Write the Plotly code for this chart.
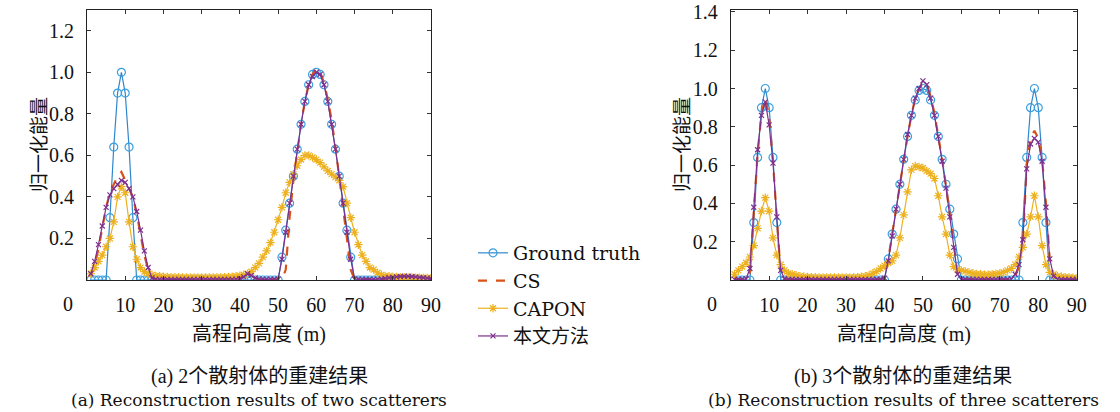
import plotly.graph_objects as go

# ---------------- data ----------------
x_m = list(range(1, 91))

# (a) two scatterers
a_gt = [0, 0, 0, 0, 0, 0.30, 0.64, 0.90, 1.00, 0.90,
        0.64, 0.30, 0, 0, 0, 0, 0, 0, 0, 0,
        0, 0, 0, 0, 0, 0, 0, 0, 0, 0,
        0, 0, 0, 0, 0, 0, 0, 0, 0, 0,
        0, 0, 0, 0, 0, 0, 0, 0, 0, 0,
        0.11, 0.24, 0.37, 0.50, 0.63, 0.75, 0.86, 0.94, 0.99, 1.00,
        0.99, 0.94, 0.86, 0.75, 0.63, 0.50, 0.37, 0.24, 0.11, 0,
        0, 0, 0, 0, 0, 0, 0, 0, 0, 0,
        0, 0, 0, 0, 0, 0, 0, 0, 0, 0]
a_cs = [0.02, 0.07, 0.15, 0.25, 0.35, 0.42, 0.46, 0.50, 0.52, 0.48,
        0.44, 0.40, 0.32, 0.22, 0.12, 0.05, 0.01, 0.004, 0.003, 0.003,
        0.003, 0.003, 0.003, 0.003, 0.003, 0.003, 0.003, 0.003, 0.003, 0.003,
        0.003, 0.003, 0.003, 0.003, 0.003, 0.003, 0.003, 0.003, 0.004, 0.006,
        0.012, 0.030, 0.020, 0.008, 0.003, 0.003, 0.003, 0.003, 0.003, 0.003,
        0.003, 0.05, 0.30, 0.48, 0.62, 0.75, 0.86, 0.94, 0.99, 1.02,
        1.00, 0.95, 0.87, 0.77, 0.64, 0.50, 0.36, 0.20, 0.05, 0.003,
        0.003, 0.003, 0.003, 0.003, 0.003, 0.003, 0.003, 0.005, 0.008, 0.010,
        0.012, 0.014, 0.015, 0.015, 0.014, 0.013, 0.012, 0.010, 0.008, 0.006]
a_capon = [0.03, 0.06, 0.09, 0.12, 0.16, 0.20, 0.28, 0.40, 0.45, 0.42,
           0.28, 0.16, 0.10, 0.06, 0.04, 0.03, 0.025, 0.02, 0.018, 0.016,
           0.015, 0.014, 0.013, 0.013, 0.012, 0.012, 0.012, 0.012, 0.012, 0.012,
           0.012, 0.012, 0.012, 0.013, 0.013, 0.014, 0.015, 0.016, 0.018, 0.021,
           0.025, 0.03, 0.04, 0.06, 0.08, 0.11, 0.14, 0.18, 0.23, 0.29,
           0.35, 0.42, 0.47, 0.51, 0.55, 0.58, 0.60, 0.60, 0.59, 0.58,
           0.565, 0.545, 0.525, 0.51, 0.495, 0.48, 0.45, 0.37, 0.30, 0.23,
           0.17, 0.12, 0.09, 0.06, 0.05, 0.035, 0.025, 0.02, 0.018, 0.016,
           0.015, 0.014, 0.013, 0.012, 0.012, 0.011, 0.011, 0.010, 0.010, 0.010]
a_prop = [0.03, 0.09, 0.17, 0.26, 0.35, 0.41, 0.44, 0.46, 0.48, 0.47,
          0.44, 0.40, 0.33, 0.24, 0.14, 0.06, 0.01, 0.004, 0.003, 0.003,
          0.003, 0.003, 0.003, 0.003, 0.003, 0.003, 0.003, 0.003, 0.003, 0.003,
          0.003, 0.003, 0.003, 0.003, 0.003, 0.003, 0.003, 0.003, 0.004, 0.007,
          0.015, 0.030, 0.022, 0.010, 0.004, 0.003, 0.003, 0.003, 0.003, 0.004,
          0.10, 0.23, 0.37, 0.50, 0.63, 0.75, 0.86, 0.94, 0.98, 1.00,
          0.99, 0.94, 0.86, 0.75, 0.63, 0.50, 0.37, 0.23, 0.10, 0.004,
          0.003, 0.003, 0.003, 0.003, 0.003, 0.003, 0.005, 0.008, 0.011, 0.013,
          0.015, 0.017, 0.018, 0.018, 0.017, 0.015, 0.013, 0.011, 0.009, 0.007]

# (b) three scatterers
b_gt = [0, 0, 0, 0, 0, 0.30, 0.64, 0.90, 1.00, 0.90,
        0.64, 0.30, 0, 0, 0, 0, 0, 0, 0, 0,
        0, 0, 0, 0, 0, 0, 0, 0, 0, 0,
        0, 0, 0, 0, 0, 0, 0, 0, 0, 0,
        0.11, 0.24, 0.37, 0.50, 0.63, 0.75, 0.86, 0.94, 0.99, 1.00,
        0.99, 0.94, 0.86, 0.75, 0.63, 0.50, 0.37, 0.24, 0.11, 0,
        0, 0, 0, 0, 0, 0, 0, 0, 0, 0,
        0, 0, 0, 0, 0, 0.30, 0.64, 0.90, 1.00, 0.90,
        0.64, 0.30, 0, 0, 0, 0, 0, 0, 0, 0]
b_cs = [0.003, 0.003, 0.003, 0.003, 0.04, 0.36, 0.66, 0.87, 0.95, 0.85,
        0.62, 0.32, 0.04, 0.003, 0.003, 0.003, 0.003, 0.003, 0.003, 0.003,
        0.003, 0.003, 0.003, 0.003, 0.003, 0.003, 0.003, 0.003, 0.003, 0.003,
        0.003, 0.003, 0.003, 0.003, 0.003, 0.003, 0.003, 0.003, 0.003, 0.02,
        0.11, 0.24, 0.37, 0.50, 0.63, 0.75, 0.86, 0.95, 1.00, 1.03,
        1.02, 0.96, 0.87, 0.76, 0.63, 0.49, 0.34, 0.18, 0.04, 0.003,
        0.003, 0.003, 0.003, 0.003, 0.003, 0.003, 0.003, 0.003, 0.003, 0.003,
        0.003, 0.003, 0.003, 0.02, 0.07, 0.20, 0.60, 0.74, 0.78, 0.74,
        0.63, 0.40, 0.10, 0.01, 0.003, 0.003, 0.003, 0.003, 0.003, 0.003]
b_capon = [0.03, 0.05, 0.07, 0.09, 0.12, 0.18, 0.27, 0.36, 0.43, 0.36,
           0.22, 0.13, 0.08, 0.05, 0.035, 0.03, 0.025, 0.02, 0.018, 0.016,
           0.015, 0.014, 0.013, 0.013, 0.013, 0.013, 0.013, 0.013, 0.013, 0.013,
           0.013, 0.014, 0.015, 0.017, 0.02, 0.025, 0.035, 0.045, 0.06, 0.075,
           0.09, 0.10, 0.13, 0.22, 0.34, 0.46, 0.575, 0.595, 0.59, 0.585,
           0.57, 0.555, 0.53, 0.44, 0.33, 0.24, 0.13, 0.07, 0.056, 0.05,
           0.045, 0.04, 0.035, 0.032, 0.03, 0.028, 0.028, 0.03, 0.032, 0.035,
           0.04, 0.05, 0.06, 0.08, 0.12, 0.17, 0.24, 0.33, 0.44, 0.33,
           0.18, 0.08, 0.04, 0.03, 0.02, 0.018, 0.015, 0.013, 0.012, 0.010]
b_prop = [0.003, 0.003, 0.003, 0.005, 0.06, 0.38, 0.68, 0.86, 0.93, 0.81,
          0.61, 0.33, 0.05, 0.006, 0.003, 0.003, 0.003, 0.003, 0.003, 0.003,
          0.003, 0.003, 0.003, 0.003, 0.003, 0.003, 0.003, 0.003, 0.003, 0.003,
          0.003, 0.003, 0.003, 0.003, 0.003, 0.003, 0.003, 0.003, 0.003, 0.01,
          0.10, 0.23, 0.37, 0.50, 0.63, 0.76, 0.86, 0.95, 1.00, 1.04,
          1.02, 0.95, 0.86, 0.75, 0.62, 0.48, 0.33, 0.17, 0.03, 0.003,
          0.003, 0.003, 0.003, 0.003, 0.003, 0.003, 0.003, 0.003, 0.003, 0.003,
          0.003, 0.003, 0.005, 0.03, 0.08, 0.21, 0.58, 0.71, 0.74, 0.72,
          0.62, 0.38, 0.11, 0.02, 0.005, 0.003, 0.003, 0.003, 0.003, 0.003]

series_names = ["Ground truth", "CS", "CAPON", "本文方法"]
x_tick_vals = [10, 20, 30, 40, 50, 60, 70, 80, 90]
y_ticks_a = [0.2, 0.4, 0.6, 0.8, 1.0, 1.2]
y_ticks_b = [0.2, 0.4, 0.6, 0.8, 1.0, 1.2, 1.4]
x_title = "高程向高度 (m)"
y_title = "归一化能量"
captions_a = ["(a) 2个散射体的重建结果", "(a) Reconstruction results of two scatterers"]
captions_b = ["(b) 3个散射体的重建结果", "(b) Reconstruction results of three scatterers"]

# ---------------- styling ----------------
W, H = 1120, 412
SERIF = "Liberation Serif, Noto Sans CJK SC, serif"
WIDE = "DejaVu Serif, Noto Sans CJK SC, serif"
INK = "#111"
TICKF = dict(family=SERIF, size=20, color=INK)

styles = [
    dict(mode="lines+markers", line=dict(color="#2F86CC", width=1.2),
         marker=dict(symbol="circle-open", size=8, color="#3AA0E0", line=dict(width=1.2))),
    dict(mode="lines", line=dict(color="#D95319", width=2.2, dash="dash")),
    dict(mode="lines+markers", line=dict(color="#EDB120", width=1.2),
         marker=dict(symbol="asterisk-open", size=7, color="#EDB120", line=dict(width=1.2))),
    dict(mode="lines+markers", line=dict(color="#7E2F8E", width=1.2),
         marker=dict(symbol="x-thin-open", size=5, color="#7E2F8E", line=dict(width=1.2))),
]

fig = go.Figure()
for j, ys in enumerate([a_gt, a_cs, a_capon, a_prop]):
    fig.add_trace(go.Scatter(x=x_m, y=ys, name=series_names[j], xaxis="x", yaxis="y",
                             legendgroup=str(j), showlegend=True, **styles[j]))
for j, ys in enumerate([b_gt, b_cs, b_capon, b_prop]):
    fig.add_trace(go.Scatter(x=x_m, y=ys, name=series_names[j], xaxis="x2", yaxis="y2",
                             legendgroup=str(j), showlegend=False, **styles[j]))

yd = [1 - 280 / H, 1 - 10 / H]
xd1 = [87 / W, 431 / W]
xd2 = [730.7 / W, 1076.7 / W]

common_x = dict(range=[0, 90], tickvals=x_tick_vals, ticktext=[str(v) for v in x_tick_vals],
                ticks="inside", ticklen=4, tickcolor="#333", showline=True, linecolor="#222",
                linewidth=1, mirror="allticks", showgrid=False, zeroline=False,
                tickfont=TICKF, ticklabelstandoff=7, automargin=False)
common_y = dict(ticks="inside", ticklen=4, tickcolor="#333", showline=True, linecolor="#222",
                linewidth=1, mirror="allticks", showgrid=False, zeroline=False,
                tickfont=TICKF, ticklabelstandoff=8, automargin=False)

fig.update_layout(
    width=W, height=H, autosize=False, margin=dict(l=0, r=0, t=0, b=0, pad=0, autoexpand=False),
    paper_bgcolor="white", plot_bgcolor="white",
    xaxis=dict(domain=xd1, anchor="y", **common_x),
    yaxis=dict(domain=yd, anchor="x", range=[0, 1.3], tickvals=y_ticks_a,
               ticktext=[f"{v:.1f}" for v in y_ticks_a], **common_y),
    xaxis2=dict(domain=xd2, anchor="y2", **common_x),
    yaxis2=dict(domain=yd, anchor="x2", range=[0, 1.41], tickvals=y_ticks_b,
                ticktext=[f"{v:.1f}" for v in y_ticks_b], **common_y),
    showlegend=True,
    legend=dict(x=473 / W, y=1 - 234 / H, xanchor="left", yanchor="top",
                font=dict(family=WIDE, size=19, color=INK), itemwidth=30,
                tracegroupgap=0, bgcolor="rgba(0,0,0,0)", borderwidth=0),
)

ann = []
for xr, cx in (("x", (xd1[0] + xd1[1]) / 2), ("x2", (xd2[0] + xd2[1]) / 2)):
    # lone "0" label, set left of the axis as in the reference
    ann.append(dict(text="0", x=0, xref=xr, y=yd[0], yref="paper", yanchor="top",
                    xanchor="center", xshift=-19, yshift=-11, showarrow=False, font=TICKF))
    ann.append(dict(text=x_title, x=cx, xref="paper", y=1 - 334 / H, yref="paper",
                    xanchor="center", yanchor="middle", showarrow=False,
                    font=dict(family=SERIF, size=20, color=INK)))
for xpos in (40 / W, 683 / W):
    ann.append(dict(text=y_title, x=xpos, xref="paper", y=(yd[0] + yd[1]) / 2, yref="paper",
                    xanchor="center", yanchor="middle", textangle=-90, showarrow=False,
                    font=dict(family=SERIF, size=19, color=INK)))
for cx, caps in ((259 / W, captions_a), (903 / W, captions_b)):
    ann.append(dict(text=caps[0], x=cx, xref="paper", y=1 - 376 / H, yref="paper",
                    xanchor="center", yanchor="middle", showarrow=False,
                    font=dict(family=SERIF, size=20, color=INK)))
    ann.append(dict(text=caps[1], x=cx, xref="paper", y=1 - 400 / H, yref="paper",
                    xanchor="center", yanchor="middle", showarrow=False,
                    font=dict(family=WIDE, size=17, color=INK)))
fig.update_layout(annotations=ann)

fig.write_html("out.html")
